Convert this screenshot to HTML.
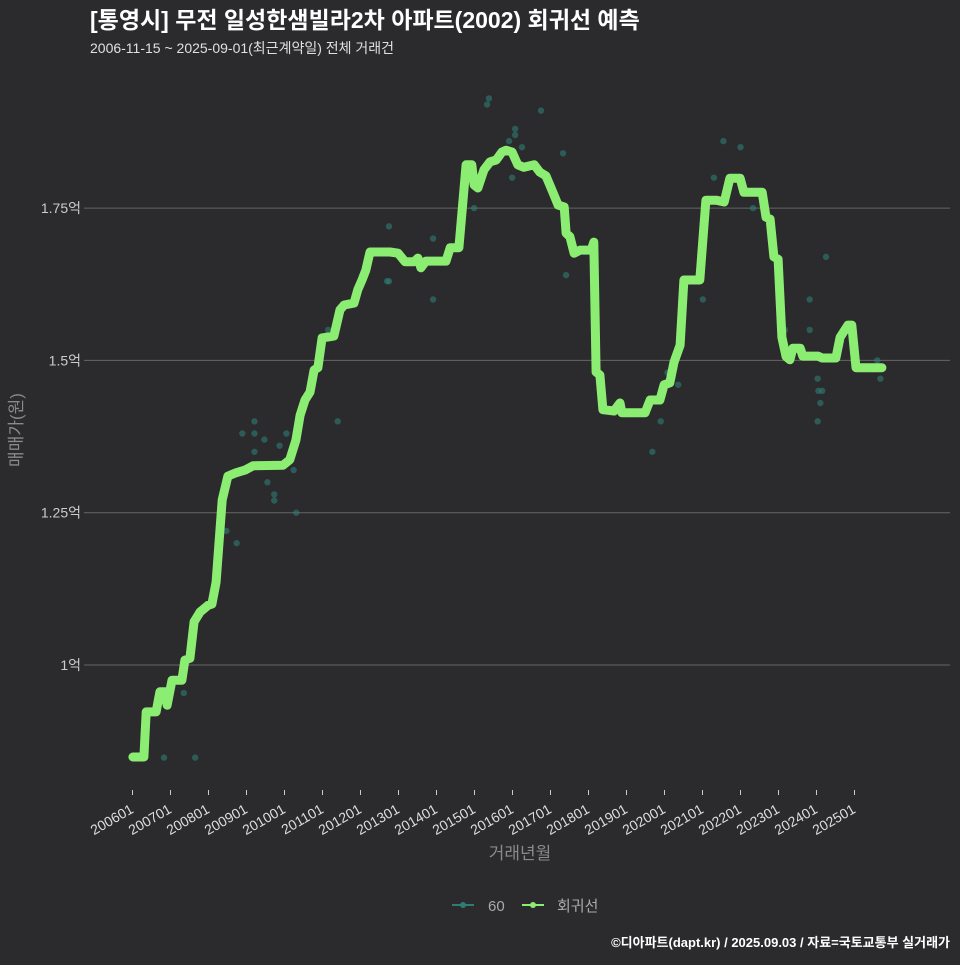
<!DOCTYPE html>
<html><head><meta charset="utf-8"><style>
body{margin:0;background:#2b2a2c;}
svg text{font-family:"Liberation Sans","Noto Sans CJK KR",sans-serif;}
</style></head><body>
<svg width="960" height="960" xmlns="http://www.w3.org/2000/svg" id="chart">
<rect width="960" height="960" fill="#2b2a2c"/>
<text x="90" y="28" font-size="23" font-weight="bold" fill="#ffffff">[통영시] 무전 일성한샘빌라2차 아파트(2002) 회귀선 예측</text>
<text x="90" y="53" font-size="14" fill="#e0e0e0">2006-11-15 ~ 2025-09-01(최근계약일) 전체 거래건</text>
<g id="grid"></g>
<g id="xaxis"></g>
<g id="dots"></g>
<path id="line" fill="none" stroke="#8ced73" stroke-width="9" stroke-linejoin="round" stroke-linecap="round"/>
<text transform="translate(22,430) rotate(-90)" text-anchor="middle" font-size="17" fill="#8a8a8a">매매가(원)</text>
<text x="520" y="859" text-anchor="middle" font-size="17" fill="#8a8a8a">거래년월</text>
<g>
<g><line x1="452" y1="905" x2="474" y2="905" stroke="#2e7d74" stroke-width="2"/><circle cx="463" cy="905" r="3" fill="#2e7d74"/><text x="488" y="911" font-size="15" fill="#aaaaaa">60</text></g>
<g><line x1="522" y1="905" x2="544" y2="905" stroke="#8ced73" stroke-width="2"/><circle cx="533" cy="905" r="3" fill="#8ced73"/><text x="557" y="911" font-size="15" fill="#aaaaaa">회귀선</text></g>
</g>
<text x="950" y="947" text-anchor="end" font-size="13" font-weight="bold" fill="#ffffff">©디아파트(dapt.kr) / 2025.09.03 / 자료=국토교통부 실거래가</text>
</svg>
<script>
const yTicks=[1,1.25,1.5,1.75];
const yTickLabels=["1억","1.25억","1.5억","1.75억"];
const xTickYears=[2006,2007,2008,2009,2010,2011,2012,2013,2014,2015,2016,2017,2018,2019,2020,2021,2022,2023,2024,2025];
const xTickLabels=["200601","200701","200801","200901","201001","201101","201201","201301","201401","201501","201601","201701","201801","201901","202001","202101","202201","202301","202401","202501"];
const lineDates=[
2006.01,2006.30,2006.36,2006.62,2006.72,2006.86,2006.91,2007.04,2007.30,2007.38,
2007.51,2007.62,2007.78,2007.99,2008.09,2008.20,2008.36,2008.51,2008.70,2008.96,
2009.17,2009.96,2010.14,2010.30,2010.41,2010.54,2010.67,2010.78,2010.88,2010.99,
2011.30,2011.46,2011.57,2011.83,2011.93,2012.04,2012.14,2012.25,2012.78,2012.99,
2013.17,2013.41,2013.51,2013.59,2013.72,2014.25,2014.36,2014.59,2014.78,2014.93,
2014.99,2015.09,2015.25,2015.41,2015.57,2015.72,2015.83,2015.99,2016.14,2016.30,
2016.57,2016.72,2016.88,2017.09,2017.20,2017.36,2017.41,2017.51,2017.62,2017.78,
2018.07,2018.14,2018.20,2018.30,2018.38,2018.67,2018.83,2018.88,2019.49,2019.62,
2019.88,2019.99,2020.14,2020.25,2020.41,2020.51,2020.93,2021.09,2021.36,2021.57,
2021.72,2021.99,2022.09,2022.57,2022.67,2022.78,2022.88,2022.99,2023.09,2023.20,
2023.30,2023.38,2023.57,2023.64,2024.04,2024.15,2024.51,2024.62,2024.83,2024.93,
2025.04,2025.72];
const lineValues=[
0.849,0.849,0.923,0.923,0.956,0.956,0.934,0.975,0.975,1.008,
1.011,1.071,1.087,1.098,1.100,1.136,1.271,1.310,1.315,1.320,
1.327,1.328,1.337,1.369,1.410,1.435,1.448,1.484,1.488,1.537,
1.540,1.583,1.591,1.594,1.616,1.632,1.648,1.678,1.678,1.676,
1.662,1.662,1.668,1.652,1.663,1.663,1.685,1.685,1.821,1.821,
1.788,1.783,1.813,1.826,1.829,1.842,1.845,1.842,1.821,1.817,
1.821,1.809,1.803,1.772,1.755,1.752,1.709,1.703,1.676,1.681,
1.681,1.694,1.481,1.476,1.419,1.417,1.430,1.414,1.414,1.435,
1.435,1.460,1.463,1.497,1.525,1.632,1.632,1.763,1.763,1.760,
1.799,1.799,1.776,1.776,1.735,1.732,1.670,1.666,1.538,1.506,
1.501,1.520,1.520,1.507,1.507,1.504,1.504,1.538,1.558,1.558,
1.488,1.488];
const dotDates=[2006.83,2007.65,2007.35,2008.47,2008.74,2009.21,2009.21,2009.47,2009.21,2010.05,2010.24,2009.55,2009.73,2009.73,2010.31,2009.87,2010.37,2008.89,2009.30,2011.15,2011.17,2011.40,2011.84,2012.25,2012.75,2012.70,2012.75,2013.91,2013.91,2014.99,2015.33,2015.38,2015.91,2016.07,2016.07,2016.25,2016.33,2015.99,2016.75,2017.41,2017.33,2019.68,2019.90,2020.08,2020.36,2021.01,2021.30,2021.55,2022.00,2022.33,2023.17,2023.82,2023.82,2024.10,2024.15,2024.03,2024.03,2024.25,2024.05,2025.60,2025.68];
const dotValues=[0.848,0.848,0.954,1.22,1.20,1.40,1.38,1.37,1.35,1.38,1.32,1.30,1.28,1.27,1.25,1.36,1.40,1.38,1.33,1.55,1.54,1.40,1.60,1.68,1.72,1.63,1.63,1.60,1.70,1.75,1.92,1.93,1.86,1.87,1.88,1.85,1.82,1.80,1.91,1.64,1.84,1.35,1.40,1.48,1.46,1.60,1.80,1.86,1.85,1.75,1.55,1.55,1.60,1.43,1.45,1.47,1.40,1.67,1.45,1.50,1.47];
const X=d=>132.5+(d-2006)*38.0;
const Y=v=>665-(v-1)*609.2;
const NS="http://www.w3.org/2000/svg";
const grid=document.getElementById('grid');
yTicks.forEach((t,i)=>{
  const l=document.createElementNS(NS,'line');
  l.setAttribute('x1',84);l.setAttribute('x2',950);l.setAttribute('y1',Y(t));l.setAttribute('y2',Y(t));
  l.setAttribute('stroke','#666');l.setAttribute('stroke-width','1');
  
  
  grid.appendChild(l);
  const tx=document.createElementNS(NS,'text');
  tx.setAttribute('x',81);tx.setAttribute('y',Y(t)+5);tx.setAttribute('text-anchor','end');
  tx.setAttribute('font-size','14');tx.setAttribute('fill','#cccccc');tx.textContent=yTickLabels[i];
  
  
  grid.appendChild(tx);
});
const xa=document.getElementById('xaxis');
xTickYears.forEach((yr,i)=>{
  const x=X(yr);
  const l=document.createElementNS(NS,'line');
  l.setAttribute('x1',x);l.setAttribute('x2',x);l.setAttribute('y1',790);l.setAttribute('y2',795);
  l.setAttribute('stroke','#cccccc');
  
  
  xa.appendChild(l);
  const tx=document.createElementNS(NS,'text');
  tx.setAttribute('transform','translate('+(x+2)+',812) rotate(-30)');
  tx.setAttribute('text-anchor','end');tx.setAttribute('font-size','14');tx.setAttribute('fill','#dddddd');
  tx.textContent=xTickLabels[i];
  
  
  xa.appendChild(tx);
});
const dots=document.getElementById('dots');
dotDates.forEach((d,i)=>{
  const c=document.createElementNS(NS,'circle');
  c.setAttribute('cx',X(d));c.setAttribute('cy',Y(dotValues[i]));c.setAttribute('r','3.2');
  c.setAttribute('fill','#2e7d74');c.setAttribute('fill-opacity','0.6');
  
  
  dots.appendChild(c);
});
document.getElementById('line').setAttribute('d',lineDates.map((d,i)=>(i?'L':'M')+X(d).toFixed(1)+','+Y(lineValues[i]).toFixed(1)).join(''));
</script>
</body></html>
